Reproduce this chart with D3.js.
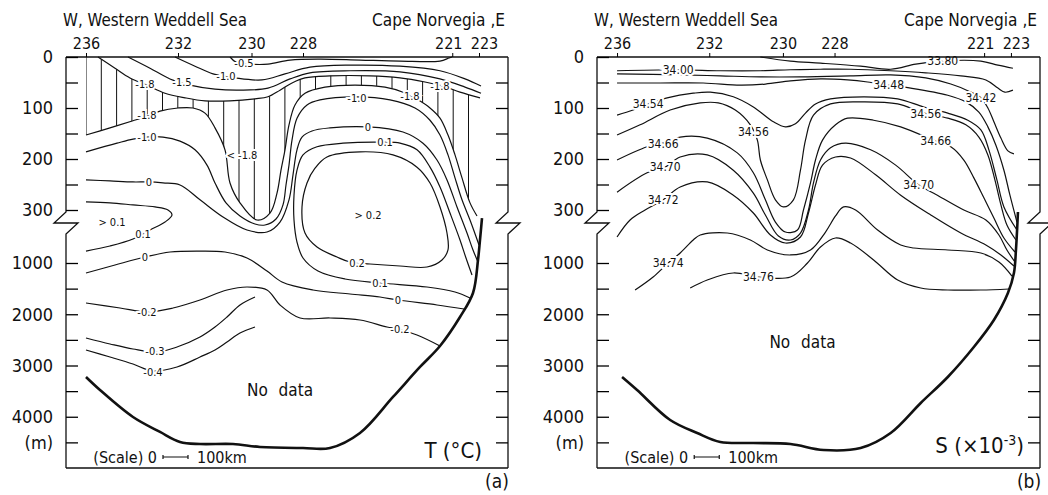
<!DOCTYPE html>
<html>
<head>
<meta charset="utf-8">
<script src="https://cdn.jsdelivr.net/npm/d3@7"></script>
<style>
  body { margin: 0; background: #fff; }
  svg text { font-family: "Liberation Sans Narrow", "DejaVu Sans Condensed", "Liberation Sans", sans-serif; fill: #111; }
</style>
</head>
<body>
<svg id="chart" width="1048" height="495"></svg>
<script>
// Stations along the section, distance in km from the western end
const stationNames = ["236", "232", "230", "228", "221", "223"];
const stationKm = [80, 448, 742, 948, 1545, 1652];

// Depth ticks (m); upper part 0-300 m, lower part 1000-5000 m
const leftTicks = [0, 50, 100, 150, 200, 250, 300, 1000, 1500, 2000, 2500, 3000, 3500, 4000, 4500];
const rightTicks = [50, 100, 150, 200, 250, 1000, 1500, 2000, 2500, 3000, 3500, 4000, 4500];
const labelledDepths = [0, 100, 200, 300, 1000, 2000, 3000, 4000];

// ---- (a) potential temperature contours, [km, depth m] ----
const tM05 = [[656,0],[680,10],[736,14],[808,14],[896,6],[1016,4],[1176,6],[1336,8],[1496,8],[1532,2],[1544,0]];
const tM10Top = [[436,0],[516,18],[588,33],[676,41],[784,45],[876,33],[976,20],[1136,16],[1336,18],[1496,27],[1596,43],[1660,57]];
const tM15 = [[248,0],[336,22],[416,43],[496,55],[596,63],[696,65],[808,61],[896,43],[976,31],[1136,27],[1336,29],[1496,43],[1596,59],[1660,71]];
const tM18Top = [[128,0],[196,22],[256,41],[324,55],[396,71],[476,80],[556,86],[656,86],[756,82],[808,78],[856,65],[904,51],[956,41],[1056,37],[1216,37],[1336,41],[1436,49],[1508,57],[1576,69],[1656,80]];
const tM18Bot = [[80,153],[176,139],[268,125],[324,116],[376,106],[448,100],[508,100],[556,110],[596,139],[636,182],[656,247],[696,286],[764,432],[816,340],[844,267],[860,222],[876,182],[892,133],[916,94],[956,71],[1036,59],[1156,55],[1276,59],[1348,69],[1408,84],[1456,100],[1496,120],[1528,153],[1556,192],[1584,237],[1616,286],[1644,379]];
const tM10Mid = [[80,186],[204,169],[268,161],[324,157],[388,157],[456,165],[516,182],[564,212],[596,247],[640,286],[696,379],[756,485],[796,498],[840,419],[868,290],[880,251],[892,212],[904,163],[924,120],[964,94],[1016,84],[1164,78],[1296,84],[1396,100],[1456,124],[1496,153],[1528,192],[1556,237],[1584,280],[1616,432],[1652,762]];
const t0Upper = [[80,241],[176,243],[268,245],[332,245],[388,247],[456,251],[536,280],[628,392],[724,564],[804,591],[856,459],[892,280],[908,231],[924,182],[944,157],[984,145],[1056,139],[1208,137],[1348,147],[1428,169],[1484,202],[1524,241],[1564,294],[1604,604],[1628,828],[1648,987]];
const t01Arch = [[1624,1234],[1600,934],[1576,696],[1536,340],[1496,255],[1456,216],[1404,182],[1336,169],[1276,167],[1108,169],[1004,176],[948,192],[924,222],[912,271],[912,432],[924,723],[948,934],[1008,1156],[1116,1312],[1256,1390],[1444,1468],[1556,1566],[1616,1683]];
const t02Loop = [[1044,196],[1176,186],[1308,192],[1404,216],[1456,247],[1496,294],[1524,604],[1528,828],[1504,960],[1444,1078],[1336,1059],[1216,1020],[1136,987],[1084,921],[1004,789],[956,604],[944,294],[964,247],[996,218]];
const t01Tongue = [[80,284],[176,286],[268,290],[356,294],[408,300],[424,366],[396,459],[336,564],[268,683],[176,775],[80,842]];
const t0Lower = [[80,1195],[196,1039],[316,921],[416,855],[536,842],[636,855],[724,934],[804,1156],[864,1371],[988,1527],[1136,1605],[1256,1663],[1328,1722],[1484,1819],[1592,1897]];
const tM02 = [[80,1780],[216,1878],[324,1956],[428,1878],[536,1722],[644,1527],[724,1468],[804,1527],[856,1819],[936,2073],[1056,2073],[1176,2112],[1284,2249],[1328,2288],[1404,2405],[1496,2619]];
const tM03 = [[80,2463],[176,2580],[268,2678],[364,2736],[444,2639],[536,2444],[596,2249],[644,2054],[696,1819],[756,1663]];
const tM04 = [[80,2697],[176,2834],[268,2971],[348,3107],[444,3029],[536,2834],[596,2697],[644,2541],[696,2366],[756,2249]];
const bottomA = [[80,3224],[136,3478],[268,4005],[376,4297],[456,4492],[536,4532],[668,4532],[776,4590],[948,4610],[1056,4610],[1176,4317],[1308,3614],[1416,3029],[1496,2619],[1576,2054],[1628,1585],[1648,960],[1656,696],[1664,406]];

const tLabels = [["-0.5",712,12],["-1.0",640,37],["-1.5",464,49],["-1.8",316,53],["-1.8",324,114],["< -1.8",704,192],
  ["-1.0",324,157],["0",332,245],["> 0.1",184,459],["0.1",308,615],["0",316,921],["-0.2",324,1956],["-0.3",356,2717],
  ["-0.4",348,3127],["-1.8",1496,57],["-1.8",1376,76],["-1.0",1164,80],["0",1208,137],["0.1",1276,167],["> 0.2",1208,366],
  ["0.2",1164,1000],["0.1",1256,1390],["0",1328,1722],["-0.2",1336,2296]];

// ---- (b) salinity contours, [km, depth m] ----
const s3380 = [[652,0],[772,8],[892,12],[1052,18],[1172,24],[1272,14],[1372,8],[1532,8],[1600,16],[1660,22]];
const s3400 = [[80,27],[324,25],[492,27],[652,27],[772,25],[892,24],[1012,24],[1172,27],[1312,31],[1452,37],[1552,45],[1600,61],[1628,69],[1660,65]];
const s3442 = [[80,33],[332,35],[492,37],[652,39],[812,39],[1012,37],[1172,35],[1312,41],[1412,53],[1484,67],[1532,80],[1560,100],[1584,127],[1612,159],[1640,184],[1664,190]];
const s3448 = [[80,51],[252,51],[424,51],[572,55],[672,53],[772,47],[892,43],[1000,45],[1080,49],[1160,55],[1252,61],[1400,75],[1472,88],[1524,108],[1560,137],[1592,173],[1624,222],[1648,271],[1676,459]];
const s3454 = [[80,114],[144,104],[204,92],[280,80],[384,71],[452,69],[544,78],[624,98],[704,127],[752,137],[792,131],[832,110],[872,92],[932,82],[1064,78],[1200,82],[1304,98],[1400,110],[1480,124],[1532,143],[1564,182],[1596,241],[1624,294],[1676,564]];
const s3456 = [[80,153],[172,133],[292,104],[412,90],[484,90],[552,104],[612,133],[640,163],[652,202],[680,241],[712,280],[744,294],[784,280],[812,222],[832,163],[864,114],[932,92],[1064,88],[1200,92],[1304,110],[1400,120],[1472,133],[1524,157],[1560,192],[1588,241],[1612,290],[1636,498],[1672,696]];
const s3466 = [[80,202],[200,176],[264,169],[332,157],[440,159],[560,188],[624,227],[672,280],[712,459],[752,591],[800,564],[824,300],[852,247],[872,202],[900,163],[952,133],[1000,120],[1104,124],[1212,137],[1352,165],[1412,176],[1464,202],[1504,237],[1544,276],[1584,406],[1624,670],[1668,855]];
const s3470 = [[80,265],[200,227],[272,216],[332,196],[440,192],[544,222],[624,267],[672,366],[724,644],[772,696],[812,604],[844,300],[864,247],[892,202],[932,178],[992,169],[1092,182],[1192,212],[1284,251],[1344,267],[1464,300],[1552,432],[1604,630],[1636,828],[1668,987]];
const s3472 = [[80,657],[132,432],[192,300],[264,280],[332,255],[440,245],[544,271],[624,340],[692,630],[752,736],[812,657],[844,340],[872,251],[900,212],[952,196],[1012,198],[1112,231],[1212,271],[1332,366],[1452,604],[1552,762],[1612,894],[1664,1059]];
const s3474 = [[152,1527],[224,1273],[284,1000],[332,868],[384,696],[412,630],[520,604],[612,696],[680,828],[772,894],[852,828],[912,591],[952,379],[984,294],[1032,300],[1120,564],[1212,762],[1264,802],[1400,828],[1532,868],[1604,987],[1656,1254]];
const s3476 = [[372,1488],[440,1332],[544,1195],[644,1273],[772,1273],[840,1000],[892,789],[952,670],[1012,736],[1104,960],[1200,1332],[1292,1488],[1400,1527],[1532,1527],[1644,1507]];
const bottomB = [[100,3224],[160,3478],[292,4063],[400,4317],[492,4492],[624,4512],[772,4532],[904,4649],[1052,4610],[1172,4317],[1292,3731],[1400,3224],[1504,2639],[1584,2112],[1640,1585],[1664,1195],[1672,828],[1680,326]];

const sLabels = [["34.00",324,24],["33.80",1380,8],["34.48",1164,55],["34.42",1532,80],["34.54",204,92],["34.56",624,147],
  ["34.56",1312,112],["34.66",264,169],["34.66",1352,165],["34.70",272,216],["34.70",1284,251],["34.72",264,280],
  ["34.74",284,1000],["34.76",644,1273]];

const sectionKm = 1768;
const scaleBarKm = [388, 488];

const svg = d3.select("#chart");
const yDepth = d3.scaleLinear().domain([0, 300, 1000, 5000]).range([57, 210, 263, 468]);
const smooth = d3.curveCatmullRom.alpha(0.5);

function drawPanel(left, right, cfg) {
  const x = d3.scaleLinear().domain([0, sectionKm]).range([left, right]);
  const g = svg.append("g");
  const line = d3.line().x(d => x(d[0])).y(d => yDepth(d[1])).curve(smooth);
  const loop = d3.line().x(d => x(d[0])).y(d => yDepth(d[1])).curve(d3.curveCatmullRomClosed.alpha(0.5));
  const top = yDepth(0), bot = yDepth(5000);
  const b0 = yDepth(300) + 2, b1 = yDepth(300) + 24;

  // hatched cold-water area (only panel a)
  if (cfg.hatch) {
    const id = "clip" + left;
    const d = `M${x(80)},${top}` + line(cfg.hatch[0]).replace(/^M/, "L") +
      line(cfg.hatch[1].slice().reverse()).replace(/^M/, "L") + "Z";
    g.append("clipPath").attr("id", id).append("path").attr("d", d);
    g.append("g").attr("clip-path", `url(#${id})`)
      .selectAll("line").data(d3.range(80, 1700, 61.2)).join("line")
      .attr("x1", d => x(d)).attr("x2", d => x(d))
      .attr("y1", top).attr("y2", yDepth(1000))
      .attr("stroke", "#111").attr("stroke-width", 1);
  }

  // contours
  g.selectAll("path.c").data(cfg.contours).join("path")
    .attr("class", "c")
    .attr("d", c => c.closed ? loop(c.pts) : line(c.pts))
    .attr("fill", "none").attr("stroke", "#111").attr("stroke-width", 1.2);

  // sea floor
  g.append("path").attr("d", line(cfg.bottom))
    .attr("fill", "none").attr("stroke", "#111").attr("stroke-width", 2.6);

  // contour labels
  g.selectAll("text.lab").data(cfg.labels).join("text")
    .attr("class", "lab")
    .attr("x", d => x(d[1])).attr("y", d => yDepth(d[2]))
    .attr("dy", "0.36em").attr("text-anchor", "middle")
    .attr("font-size", cfg.labelSize)
    .attr("stroke", "#fff").attr("stroke-width", 4).attr("paint-order", "stroke")
    .text(d => d[0]);

  // frame with axis break
  const side = xx => `M${xx},${top}V${b0}L${xx - 12},${b0 + 11}L${xx + 12},${b0 + 11}L${xx},${b1}V${bot}`;
  g.append("path")
    .attr("d", `M${left},${top}H${right}` + side(left) + side(right) + `M${left},${bot}H${right}`)
    .attr("fill", "none").attr("stroke", "#111").attr("stroke-width", 1.3);

  // depth axes
  const fmt = d => d === 4500 ? "(m)" : (labelledDepths.includes(d) ? String(d) : "");
  g.append("g").attr("transform", `translate(${left},0)`)
    .call(d3.axisLeft(yDepth).tickValues(leftTicks).tickSize(-12).tickPadding(13).tickFormat(fmt))
    .call(a => a.select(".domain").remove())
    .call(a => a.attr("font-size", 18).attr("font-family", null))
    .call(a => a.selectAll("line").attr("stroke-width", 1.3));
  g.append("g").attr("transform", `translate(${right},0)`)
    .call(d3.axisRight(yDepth).tickValues(rightTicks).tickSize(-12).tickFormat(""))
    .call(a => a.select(".domain").remove())
    .call(a => a.selectAll("line").attr("stroke-width", 1.3));

  // stations; the two eastern ones are pushed slightly apart so they don't touch
  g.append("g").attr("transform", `translate(0,${top})`)
    .call(d3.axisTop(x).tickValues(stationKm).tickSize(4).tickPadding(4).tickFormat((d, i) => stationNames[i]))
    .call(a => a.select(".domain").remove())
    .call(a => a.attr("font-size", 16).attr("font-family", null))
    .call(a => a.selectAll("text").attr("dx", (d, i) => i === 4 ? -4 : i === 5 ? 5 : 0));

  g.append("text").attr("x", left - 3).attr("y", 26).attr("font-size", 17)
    .attr("textLength", 184).attr("lengthAdjust", "spacingAndGlyphs")
    .text("W, Western  Weddell  Sea");
  g.append("text").attr("x", right - 136).attr("y", 26).attr("font-size", 17)
    .attr("textLength", 133).attr("lengthAdjust", "spacingAndGlyphs")
    .text("Cape  Norvegia ,E");

  // no-data note
  g.append("text").attr("x", x(cfg.noData[0])).attr("y", yDepth(cfg.noData[1]))
    .attr("dy", "0.36em").attr("text-anchor", "middle").attr("font-size", 17)
    .attr("word-spacing", 6).text("No data");

  // distance scale
  const sy = bot - 11;
  g.append("text").attr("x", x(scaleBarKm[0]) - 6).attr("y", sy).attr("dy", "0.36em")
    .attr("text-anchor", "end").attr("font-size", 16).text("(Scale) 0");
  g.append("path")
    .attr("d", `M${x(scaleBarKm[0])},${sy}H${x(scaleBarKm[1])}M${x(scaleBarKm[0])},${sy - 2}V${sy + 2}M${x(scaleBarKm[1])},${sy - 2}V${sy + 2}`)
    .attr("stroke", "#111").attr("stroke-width", 1.2);
  g.append("text").attr("x", x(scaleBarKm[1]) + 9).attr("y", sy).attr("dy", "0.36em")
    .attr("font-size", 16).text("100km");

  // variable name and panel letter
  const v = g.append("text").attr("x", right - cfg.unitRight).attr("y", cfg.unitY)
    .attr("text-anchor", "end").attr("font-size", 22);
  cfg.unit(v);
  g.append("text").attr("x", right - 11).attr("y", 488).attr("text-anchor", "middle")
    .attr("font-size", 19).text(cfg.letter);
}

drawPanel(66, 508, {
  contours: [tM05, tM10Top, tM15, tM18Top, tM18Bot, tM10Mid, t0Upper, t01Arch, t01Tongue, t0Lower, tM02, tM03, tM04]
    .map(p => ({ pts: p })).concat([{ pts: t02Loop, closed: true }]),
  hatch: [tM18Top, tM18Bot],
  bottom: bottomA,
  labels: tLabels,
  labelSize: 11,
  noData: [856, 3478],
  unitRight: 26, unitY: 458,
  unit: t => t.text("T (°C)"),
  letter: "(a)"
});

drawPanel(597, 1040, {
  contours: [s3380, s3400, s3442, s3448, s3454, s3456, s3466, s3470, s3472, s3474, s3476].map(p => ({ pts: p })),
  bottom: bottomB,
  labels: sLabels,
  labelSize: 12,
  noData: [820, 2541],
  unitRight: 16, unitY: 453,
  unit: t => {
    t.append("tspan").text("S (×10");
    t.append("tspan").attr("dy", -8).attr("font-size", 14).text("-3");
    t.append("tspan").attr("dy", 8).text(")");
  },
  letter: "(b)"
});
</script>
</body>
</html>
